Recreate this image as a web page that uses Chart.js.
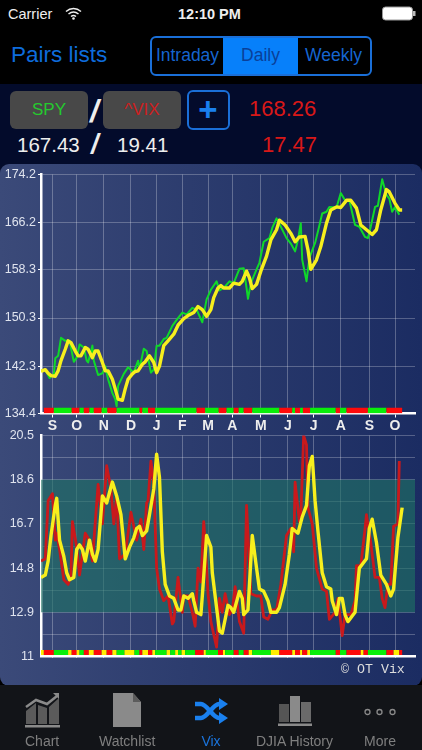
<!DOCTYPE html>
<html>
<head>
<meta charset="utf-8">
<title>OT Vix</title>
<script src="https://cdn.jsdelivr.net/npm/chart.js@4"></script>
<style>
body{margin:0;background:#000;font-family:"Liberation Sans",sans-serif;}
#screen{position:relative;width:422px;height:750px;overflow:hidden;background:#000;}
#screen div,#screen canvas,#screen svg{position:absolute;}
.t{white-space:nowrap;line-height:1;}
#navy{left:0;top:84px;width:422px;height:90px;background:#030b2b;}
#panel{left:0;top:164px;width:422px;height:522px;border-radius:9px;background:linear-gradient(90deg,#3b4a79,#2c3c6e 45%,#1b2c62);}
#tabbar{left:0;top:685px;width:422px;height:65px;background:#121418;}
.seg{top:38px;height:36px;line-height:35px;text-align:center;font-size:17.5px;color:#1565d0;}
.btn{top:91px;width:78px;height:38px;line-height:38px;text-align:center;border-radius:6px;background:#484848;font-size:17px;}
.tab{top:734px;font-size:14px;color:#7f7f7f;text-align:center;line-height:1;white-space:nowrap;}
</style>
</head>
<body>
<div id="screen">
  <div class="t" style="left:8px;top:7px;font-size:14.5px;color:#eee">Carrier</div>
  <svg style="left:65px;top:7px" width="17" height="13" viewBox="0 0 17 13"><path d="M1 4.5C5.500 .5 11.500 .5 16 4.500M3.500 7C6.500 4.500 10.500 4.500 13.500 7M6 9.500C7.500 8.300 9.500 8.300 11 9.500" fill="none" stroke="#eee" stroke-width="1.500"/><circle cx="8.500" cy="11.500" r="1.300" fill="#eee"/></svg>
  <div class="t" style="left:178px;top:7px;font-size:14.500px;font-weight:bold;color:#eee">12:10 PM</div>
  <svg style="left:382px;top:6px" width="34" height="15" viewBox="0 0 34 15"><rect x=".5" y="1" width="30" height="13" rx="3" fill="#fff" stroke="#999"/><rect x="31" y="5" width="2.500" height="5" fill="#bbb"/></svg>

  <div class="t" style="left:11px;top:44px;font-size:22.500px;color:#0e6cdc">Pairs lists</div>
  <div style="left:150px;top:36px;width:218px;height:36px;border:2px solid #1a6fd8;border-radius:6px"></div>
  <div class="seg" style="left:152px;width:71px">Intraday</div>
  <div class="seg" style="left:223px;width:75px;background:#0780fa;color:#0a3f98">Daily</div>
  <div class="seg" style="left:298px;width:71px">Weekly</div>

  <div id="navy"></div>
  <div class="btn" style="left:10px;color:#25c92e">SPY</div>
  <div class="t" style="left:90px;top:96px;font-size:31px;font-style:italic;font-weight:bold;color:#eee">/</div>
  <div class="btn" style="left:103px;color:#cc1f1f">^VIX</div>
  <div style="left:187px;top:90px;width:39px;height:36px;border:2px solid #1a6fd8;border-radius:6px"></div>
  <div class="t" style="left:189px;top:93px;width:38px;text-align:center;font-size:33px;font-weight:bold;color:#1a80ee">+</div>
  <div class="t" style="left:249px;top:98px;font-size:22px;color:#d81818">168.26</div>
  <div class="t" style="left:17px;top:135px;font-size:20.500px;color:#eee">167.43</div>
  <div class="t" style="left:91px;top:131px;font-size:27px;font-style:italic;font-weight:bold;color:#eee">/</div>
  <div class="t" style="left:117px;top:135px;font-size:20.500px;color:#eee">19.41</div>
  <div class="t" style="left:262px;top:134px;font-size:22px;color:#d81818">17.47</div>

  <div id="panel"></div>
  <canvas id="spyChart" width="422" height="270" style="left:0;top:165px"></canvas>
  <canvas id="vixChart" width="422" height="244" style="left:0;top:424px"></canvas>
  <div class="t" style="left:341px;top:663px;font-family:'Liberation Mono',monospace;font-size:13.300px;color:#ddd">&copy; OT Vix</div>

  <div id="tabbar"></div>
  <svg style="left:24px;top:692px" width="38" height="36" viewBox="0 0 38 36"><path d="M2 19l10-8v21H2zM14 13l9 3v16h-9zM25 15l10-9v26H25z" fill="#5b5b5b"/><path d="M2 15l10-7 11 4 10-8" fill="none" stroke="#8a8a8a" stroke-width="2.500"/><path d="M29 1h6v6z" fill="#8a8a8a"/><rect x="1" y="33" width="35" height="2.500" fill="#8a8a8a"/></svg>
  <svg style="left:112px;top:692px" width="30" height="36" viewBox="0 0 30 36"><path d="M1 1h20l8 9v25H1z" fill="#8a8a8a"/><path d="M21 1l8 9h-8z" fill="#5c5c5c"/></svg>
  <svg style="left:194px;top:698px" width="34" height="26" viewBox="0 0 34 26"><path d="M1 6h6c6 0 12 14 18 14h2M1 20h6c6 0 12-14 18-14h2" fill="none" stroke="#1a80ee" stroke-width="4.500"/><path d="M25 0l9 6-9 6zM25 14l9 6-9 6z" fill="#1a80ee"/></svg>
  <svg style="left:278px;top:695px" width="34" height="32" viewBox="0 0 34 32"><rect x="1" y="9" width="10" height="18" fill="#555"/><rect x="12" y="1" width="10" height="26" fill="#8a8a8a"/><rect x="23" y="7" width="10" height="20" fill="#6a6a6a"/><rect x="0" y="28.500" width="34" height="2.500" fill="#8a8a8a"/></svg>
  <svg style="left:364px;top:706px" width="32" height="12" viewBox="0 0 32 12"><g fill="none" stroke="#8a8a8a" stroke-width="1.300"><circle cx="3.500" cy="6" r="2.500"/><circle cx="15.500" cy="6" r="2.500"/><circle cx="28.500" cy="6" r="2.500"/></g></svg>
  <div class="tab" style="left:25px;width:34px">Chart</div>
  <div class="tab" style="left:99px;width:56px">Watchlist</div>
  <div class="tab" style="left:200px;width:22px;color:#1a74dc">Vix</div>
  <div class="tab" style="left:256px;width:76px">DJIA History</div>
  <div class="tab" style="left:364px;width:32px">More</div>
</div>

<script>
// x axis is counted in trading sessions
const monthDays=[8,25,44,63,81,99,117,134,154,173,191,210,230,248];
const monthLabels=['S','O','N','D','J','F','M','A','M','J','J','A','S','O'];

const spyTicks=[174.2,166.2,158.3,150.3,142.3,134.4];
const vixTicks=[20.5,19.55,18.6,17.65,16.7,15.75,14.8,13.85,12.9,11.95,11];
const vixTickLabels=['20.5','','18.6','','16.7','','14.8','','12.9','','11'];
const bandHigh=18.6;
const bandLow=12.9;

// SPY price
const spyDays=[0,3,6,9,10,12,14,17,20,23,25,27,30,32,33,36,37,40,43,45,47,50,52,53,54,58,61,65,68,69,72,74,77,79,81,83,86,88,92,95,99,102,106,109,113,116,119,123,125,128,132,135,139,142,144,145,147,151,153,156,160,162,165,168,172,175,178,180,182,183,186,188,192,194,197,200,202,207,210,213,216,220,223,227,229,231,234,236,239,242,244,246,248,251];
const spyValues=[141.5,141.7,140.3,141.0,143.6,144.0,147.0,146.5,146.5,143.0,143.7,145.9,145.4,143.2,142.9,145.7,143.2,140.8,141.1,142.3,140.1,137.8,136.8,135.6,139.0,141.0,142.1,141.2,143.2,141.8,145.2,144.8,141.2,141.7,145.7,145.7,146.8,147.0,149.0,150.0,151.2,150.9,152.0,151.7,149.6,153.4,155.0,156.4,154.9,155.3,156.4,156.1,158.5,158.6,155.3,153.5,156.1,158.4,159.5,163.0,163.6,165.3,166.9,165.5,163.6,162.7,161.4,163.3,166.1,160.0,156.4,160.3,162.8,164.7,167.7,168.0,168.8,168.7,171.1,169.9,169.9,165.8,165.5,163.8,163.6,165.5,168.8,169.0,173.4,170.8,170.2,168.0,168.8,167.5];

// SPY moving average
const spyAvgDays=[0,3,5,7,10,12,14,17,19,21,24,26,28,31,33,36,38,40,43,45,47,50,52,54,57,59,61,64,66,68,71,73,76,79,81,83,86,89,93,96,100,103,107,110,113,116,119,121,124,126,128,132,135,139,141,144,146,148,151,154,158,161,165,167,171,175,178,181,185,187,189,193,196,200,203,207,210,214,217,221,224,228,232,235,238,242,244,248,251,253];
const spyAvgValues=[141.4,141.7,141.1,140.7,140.6,141.5,143.2,145.1,146.5,146.2,144.8,144.0,144.0,145.4,145.1,143.7,144.8,144.8,142.9,141.5,141.5,140.1,138.5,136.8,136.6,138.5,140.1,141.0,141.4,141.5,142.6,143.0,144.0,142.9,141.2,142.3,145.7,146.5,147.6,149.1,150.2,150.7,151.2,152.2,151.7,150.6,151.7,153.7,155.3,155.7,155.3,155.3,156.1,155.9,156.4,158.1,157.0,155.2,155.9,158.1,160.6,163.3,165.0,166.6,165.8,164.4,163.0,163.8,163.9,161.7,158.4,160.0,162.2,166.1,168.3,168.8,168.7,169.9,169.9,168.6,165.8,165.0,164.2,165.0,168.3,171.7,171.3,169.4,168.3,168.3];

// VIX level
const vixDays=[0,3,5,8,10,11,13,16,19,21,22,25,27,31,33,36,40,43,46,49,51,53,55,59,63,67,70,72,74,75,77,79,81,83,86,89,92,93,96,99,100,103,106,108,110,112,114,115,117,119,123,125,127,129,132,134,136,139,142,144,147,151,154,156,159,162,165,168,172,175,177,178,181,182,184,186,187,190,193,197,200,202,206,208,211,213,217,220,221,224,227,228,231,234,237,239,241,243,245,247,250,251];
const vixValues=[15.1,15.2,17.7,18.0,16.0,16.3,15.6,14.3,14.1,14.5,16.8,15.7,14.5,16.3,16.1,15.1,18.4,16.7,19.2,18.2,16.7,17.9,15.2,15.4,17.2,16.0,16.9,15.6,17.6,17.7,19.4,18.4,14.8,13.9,13.4,13.6,12.4,12.5,14.4,12.9,13.6,13.6,12.9,12.3,14.8,14.2,16.8,15.9,13.7,12.5,11.4,13.5,12.9,13.7,12.8,13.0,14.0,12.5,12.0,17.5,13.7,13.6,13.6,12.7,12.6,13.0,13.0,14.1,16.2,16.5,15.5,18.5,16.8,17.0,20.5,20.1,17.4,16.7,14.8,13.9,13.8,12.6,12.9,13.5,11.9,12.8,12.8,13.4,14.9,14.9,16.5,17.1,15.9,14.4,14.4,13.5,13.1,14.1,14.1,16.6,16.7,19.4];

// VIX moving average
const vixAvgDays=[0,3,5,7,10,11,13,16,18,20,23,25,27,29,31,34,36,38,40,43,46,50,53,56,59,62,65,67,69,71,74,76,79,81,83,85,87,90,93,96,98,100,103,106,107,109,112,113,116,119,120,125,127,131,133,135,139,141,142,145,148,151,153,156,159,161,165,167,171,174,176,180,183,186,188,190,192,194,197,200,203,204,207,209,211,213,215,220,223,228,230,232,235,238,242,245,247,250,253];
const vixAvgValues=[14.4,14.5,15.1,16.2,17.5,17.8,16.0,15.3,14.6,14.3,14.4,15.6,15.8,15.6,15.1,16.0,15.4,15.1,15.6,17.9,17.6,18.5,17.9,17.1,15.2,15.7,16.1,16.5,16.6,16.2,16.4,17.1,18.2,19.7,18.7,15.5,14.1,13.6,13.5,13.0,13.0,13.6,13.5,13.7,13.4,12.9,12.8,13.6,16.2,15.7,14.6,12.1,12.0,13.2,13.1,12.9,13.8,13.5,12.8,13.0,16.2,14.8,13.9,13.8,13.4,12.9,12.9,13.1,14.1,15.4,16.5,16.3,17.0,17.5,19.2,19.6,17.7,16.4,14.6,14.0,13.9,13.4,12.8,13.5,13.5,12.8,12.5,12.9,14.8,15.2,16.5,16.9,15.9,14.5,14.1,13.6,13.9,16.1,17.4];

// status strips, each run goes from one day to the next
const spyStripLevel=134.9;
const spyStripDays=[2,9,21.5,27,30,34,37,42.5,46.5,53,69,71,75,80,109,115,124.5,130,135,138.5,142,148,167,176,178,181.5,183.5,188.5,206.5,209.5,214,229,242,253];
const spyStripColours=['r','g','r','g','r','g','r','g','r','g','r','g','r','g','r','g','r','g','r','g','r','g','r','g','r','g','r','g','r','g','r','g','r'];
const vixStripLevel=11.17;
const vixStripDays=[0,2,9,19,21.5,25,27,30,33.5,37,42.5,46,50,53,58.5,65.5,69,71,75,78,80,88,90.5,94,96,98.5,101,108,114,115.5,124,127.5,129,135,138.5,142,145.5,148,161,167,176,178,181.5,183,186.5,188.5,206.5,209.5,214,224,226,229,242,247,251,253];
const vixStripColours=['y','r','g','y','r','y','g','r','y','r','y','r','y','g','y','g','r','y','r','y','g','y','g','y','g','y','g','r','y','g','r','y','g','r','g','r','y','g','y','r','y','r','y','r','y','g','r','g','r','y','r','g','r','y','r'];

const stripPalette={r:'#ff0a0a',g:'#0aee0a',y:'#ffee00'};
const xMax=262;

function zip(xs,ys){
  return xs.map((x,i)=>({x:x,y:ys[i]}));
}

function line(xs,ys,color,width){
  return {data:zip(xs,ys),borderColor:color,borderWidth:width,borderJoinStyle:'round',pointRadius:0,tension:0,fill:false};
}

function strip(days,colours,level,width){
  return {
    data:days.map(d=>({x:d,y:level})),
    borderColor:'#0aee0a',
    borderWidth:width,
    borderCapStyle:'butt',
    pointRadius:0,
    segment:{borderColor:ctx=>stripPalette[colours[ctx.p0DataIndex]]}
  };
}

function xScale(showLabels,height,tickLen){
  return {
    type:'linear',
    min:0,
    max:xMax,
    afterBuildTicks:s=>{s.ticks=monthDays.map(d=>({value:d}));},
    afterFit:s=>{s.height=height;},
    border:{color:'#fff',width:2.5},
    grid:{color:'rgba(255,255,255,0.27)',tickColor:'#fff',tickLength:tickLen,lineWidth:1},
    ticks:{
      display:showLabels,
      autoSkip:false,
      maxRotation:0,
      padding:0,
      color:'#eee',
      font:{family:'Liberation Sans',size:14,weight:'bold'},
      callback:(v,i)=>monthLabels[i]
    }
  };
}

function yScale(tickValues,tickLabels,tickColor,pad){
  return {
    min:tickValues[tickValues.length-1],
    max:tickValues[0],
    afterBuildTicks:s=>{s.ticks=tickValues.map(v=>({value:v}));},
    afterFit:s=>{s.width=41;},
    border:{color:'#fff',width:2.5},
    grid:{color:'rgba(255,255,255,0.25)',tickColor:tickColor,tickLength:3,lineWidth:1},
    ticks:{
      autoSkip:false,
      padding:pad,
      color:'#dfe3ee',
      font:{family:'Liberation Sans',size:12.5},
      callback:(v,i)=>tickLabels[i]
    }
  };
}

const baseOptions={
  responsive:false,
  animation:false,
  plugins:{legend:{display:false},tooltip:{enabled:false}}
};

new Chart(document.getElementById('spyChart'),{
  type:'line',
  data:{datasets:[
    line(spyAvgDays,spyAvgValues,'#f7ef1d',3.4),
    line(spyDays,spyValues,'#10d82a',2),
    strip(spyStripDays,spyStripColours,spyStripLevel,5.5)
  ]},
  options:{...baseOptions,
    layout:{padding:{top:7.7,right:7,left:0,bottom:0}},
    scales:{
      x:xScale(true,21.5,4),
      y:yScale(spyTicks,spyTicks.map(String),'#fff',2)
    }
  }
});

new Chart(document.getElementById('vixChart'),{
  type:'line',
  data:{datasets:[
    line(vixAvgDays,vixAvgValues,'#f7ef1d',3.4),
    line(vixDays,vixValues,'#c9191c',2.8),
    strip(vixStripDays,vixStripColours,vixStripLevel,5),
    {
      data:[{x:0,y:bandHigh},{x:xMax,y:bandHigh}],
      borderWidth:0,
      pointRadius:0,
      backgroundColor:'rgba(30,115,100,0.62)',
      fill:{value:bandLow}
    }
  ]},
  options:{...baseOptions,
    layout:{padding:{top:5.7,right:7,left:0,bottom:0}},
    scales:{
      x:xScale(false,8.5,0),
      y:yScale(vixTicks,vixTickLabels,'rgba(0,0,0,0)',4)
    }
  }
});
</script>
</body>
</html>
